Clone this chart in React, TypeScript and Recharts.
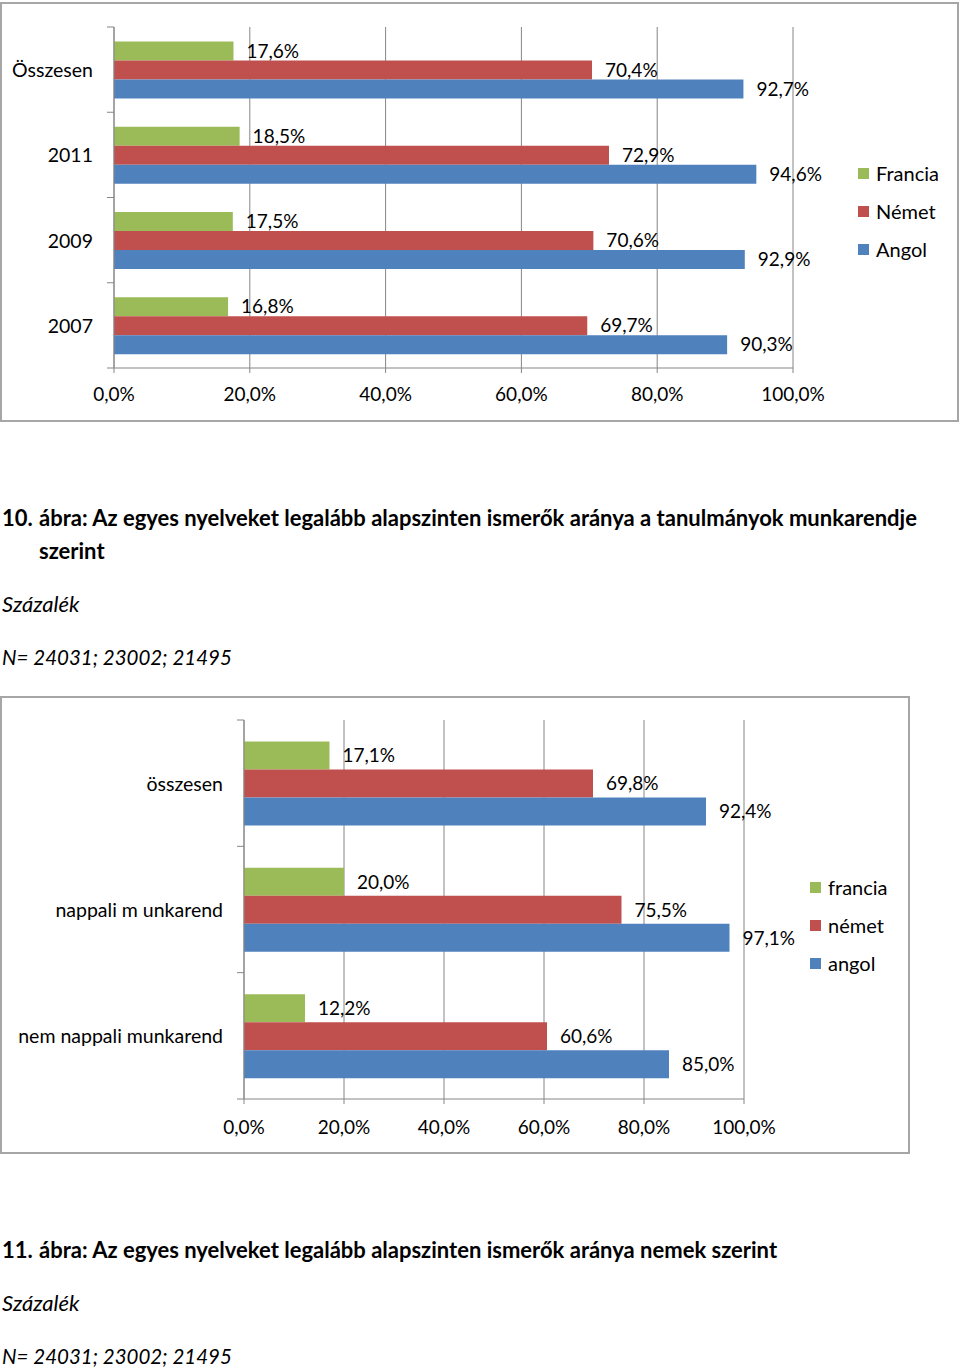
import React from 'react';
import { BarChart, Bar, XAxis, YAxis, CartesianGrid, LabelList, Legend } from 'recharts';

const FONT = 'Lato, "Open Sans", sans-serif';

const chart1Categories = ['Összesen', '2011', '2009', '2007'];
const chart1Francia = [17.6, 18.5, 17.5, 16.8];
const chart1Nemet = [70.4, 72.9, 70.6, 69.7];
const chart1Angol = [92.7, 94.6, 92.9, 90.3];
const chart1SeriesNames = ['Francia', 'Német', 'Angol'];

const chart2Categories = ['összesen', 'nappali m unkarend', 'nem nappali munkarend'];
const chart2Francia = [17.1, 20.0, 12.2];
const chart2Nemet = [69.8, 75.5, 60.6];
const chart2Angol = [92.4, 97.1, 85.0];
const chart2SeriesNames = ['francia', 'német', 'angol'];

const xTicks = [0, 20, 40, 60, 80, 100];
const seriesColors = ['#9BBB59', '#C0504D', '#4F81BD'];

const caption1Number = '10.';
const caption1Text = 'ábra: Az egyes nyelveket legalább alapszinten ismerők aránya a tanulmányok munkarendje szerint';
const caption2Number = '11.';
const caption2Text = 'ábra: Az egyes nyelveket legalább alapszinten ismerők aránya nemek szerint';
const unitText = 'Százalék';
const nText = 'N= 24031; 23002; 21495';

const GRID = '#868686';
const NUM_SIZE = 19;
const CAT_SIZE = 19.5;
const LEGEND_SIZE = 20;
const fmt = (v: number) => v.toFixed(1).replace('.', ',') + '%';

const buildRows = (cats: string[], a: number[], b: number[], c: number[]) =>
  cats.map((name, i) => ({ name, s0: a[i], s1: b[i], s2: c[i] }));

const rows1 = buildRows(chart1Categories, chart1Francia, chart1Nemet, chart1Angol);
const rows2 = buildRows(chart2Categories, chart2Francia, chart2Nemet, chart2Angol);

const makeYTick = (band: number, count: number) => (props: any) => {
  const { x, y, payload, index } = props;
  const top = y - band / 2;
  return (
    <g>
      <line x1={x - 7} x2={x} y1={top} y2={top} stroke={GRID} strokeWidth={1} />
      {index === count - 1 && (
        <line x1={x - 7} x2={x} y1={y + band / 2} y2={y + band / 2} stroke={GRID} strokeWidth={1} />
      )}
      <text x={x - 21} y={y} textAnchor="end" dominantBaseline="central" fill="#000" fontSize={CAT_SIZE} fontFamily={FONT}>
        {payload.value}
      </text>
    </g>
  );
};

const makeLegend = (names: string[]) => (props: any) => {
  const payload = [...(props.payload || [])].sort(
    (a: any, b: any) => names.indexOf(a.value) - names.indexOf(b.value)
  );
  return (
    <div style={{ fontFamily: FONT, fontSize: LEGEND_SIZE, color: '#000' }}>
      {payload.map((p: any) => (
        <div key={p.value} style={{ height: 38, display: 'flex', alignItems: 'center', whiteSpace: 'nowrap' }}>
          <span style={{ display: 'inline-block', width: 11, height: 11, background: p.color, marginRight: 7 }} />
          <span>{p.value}</span>
        </div>
      ))}
    </div>
  );
};

type ChartProps = {
  rows: any[];
  names: string[];
  width: number;
  height: number;
  top: number;
  yWidth: number;
  right: number;
  xHeight: number;
  tickMargin: number;
  legendLeft: number;
  legendTop: number;
};

const HBarChart = ({ rows, names, width, height, top, yWidth, right, xHeight, tickMargin, legendLeft, legendTop }: ChartProps) => {
  const plotH = height - top - xHeight;
  const band = plotH / rows.length;
  return (
    <BarChart
      width={width}
      height={height}
      data={rows}
      layout="vertical"
      margin={{ top, right, bottom: 0, left: 0 }}
      barCategoryGap="17%"
      barGap={0}
    >
      <CartesianGrid horizontal={false} stroke={GRID} strokeWidth={1} />
      <XAxis
        type="number"
        domain={[0, 100]}
        ticks={xTicks}
        tickFormatter={fmt}
        height={xHeight}
        axisLine={{ stroke: GRID }}
        tickLine={{ stroke: GRID }}
        tickSize={5}
        tickMargin={tickMargin}
        tick={{ fill: '#000', fontSize: NUM_SIZE, fontFamily: FONT }}
        interval={0}
      />
      <YAxis
        type="category"
        dataKey="name"
        width={yWidth}
        axisLine={{ stroke: GRID }}
        tickLine={false}
        tickSize={0}
        tickMargin={0}
        interval={0}
        tick={makeYTick(band, rows.length)}
      />
      <Legend
        layout="vertical"
        align="center"
        verticalAlign="middle"
        wrapperStyle={{ left: legendLeft, top: legendTop, width: 'auto', height: 'auto' }}
        content={makeLegend(names)}
      />
      {names.map((n, i) => (
        <Bar key={n} dataKey={'s' + i} name={n} fill={seriesColors[i]} isAnimationActive={false}>
          <LabelList
            dataKey={'s' + i}
            position="right"
            offset={13}
            formatter={(v: any) => fmt(Number(v))}
            style={{ fill: '#000', fontSize: NUM_SIZE, fontFamily: FONT }}
          />
        </Bar>
      ))}
    </BarChart>
  );
};

const captionStyle: React.CSSProperties = {
  position: 'absolute',
  left: 2,
  fontFamily: FONT,
  lineHeight: '33px',
  color: '#000',
  margin: 0,
  whiteSpace: 'nowrap',
};

const Caption = ({ top, num, text }: { top: number; num: string; text: string }) => (
  <div style={{ ...captionStyle, whiteSpace: 'normal', top, width: 945, fontSize: 22, fontWeight: 700, paddingLeft: 37, textIndent: -37, boxSizing: 'border-box' }}>
    <span style={{ display: 'inline-block', width: 37, textIndent: 0 }}>{num}</span>
    {text}
  </div>
);

const Note = ({ top, text, size }: { top: number; text: string; size: number }) => (
  <div style={{ ...captionStyle, top, fontSize: size, fontStyle: 'italic' }}>{text}</div>
);

export default function App() {
  return (
    <div style={{ position: 'absolute', left: 0, top: 0, width: 960, height: 1369, background: '#fff', fontFamily: FONT }}>
      <div style={{ position: 'absolute', left: 0, top: 2, width: 959, height: 420, border: '2px solid #a6a6a6', boxSizing: 'border-box' }} />
      <div style={{ position: 'absolute', left: 0, top: 0 }}>
        <HBarChart
          rows={rows1}
          names={chart1SeriesNames}
          width={960}
          height={420}
          top={27}
          yWidth={114}
          right={167}
          xHeight={52}
          tickMargin={15}
          legendLeft={858}
          legendTop={154}
        />
      </div>

      <Caption top={501} num={caption1Number} text={caption1Text} />
      <Note top={587} text={unitText} size={22} />
      <Note top={641} text={nText} size={20.5} />

      <div style={{ position: 'absolute', left: 0, top: 696, width: 910, height: 458, border: '2px solid #a6a6a6', boxSizing: 'border-box' }} />
      <div style={{ position: 'absolute', left: 0, top: 697 }}>
        <HBarChart
          rows={rows2}
          names={chart2SeriesNames}
          width={960}
          height={456}
          top={23}
          yWidth={244}
          right={216}
          xHeight={54}
          tickMargin={17}
          legendLeft={810}
          legendTop={171}
        />
      </div>

      <Caption top={1233} num={caption2Number} text={caption2Text} />
      <Note top={1286} text={unitText} size={22} />
      <Note top={1340} text={nText} size={20.5} />
    </div>
  );
}
